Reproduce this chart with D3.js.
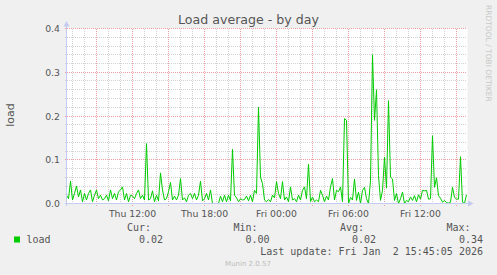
<!DOCTYPE html>
<meta charset="utf-8">
<style>
body { margin: 0; background: #f0f0f0; }
svg { display: block; }
.lbl { font: 9.3px "DejaVu Sans", sans-serif; fill: #555; }
.mono { font: 10px "DejaVu Sans Mono", monospace; fill: #555; white-space: pre; }
</style>
<svg id="chart" width="497" height="275"></svg>
<script src="https://d3js.org/d3.v7.min.js"></script>
<script>

// load average, one sample every 10 minutes from Thu 06:30
var load = [
  .019,.011,.051,.008,.023,.040,.015,.031,.004,.023,
  .008,.023,.031,.004,.019,.031,.011,.019,.008,.011,
  .019,.006,.031,.011,.023,.008,.027,.031,.038,.008,
  .023,.004,.019,.017,.011,.023,.031,.011,.019,.008,
  .137,.008,.011,.029,.004,.019,.006,.070,.031,.008,
  .011,.027,.048,.008,.017,.008,.019,.057,.008,.013,
  .004,.019,.023,.011,.023,.008,.019,.051,.006,.011,
  .023,.008,.031,0,0,0,0,.017,.004,.019,
  .004,.019,.006,.124,.019,.013,.004,.011,.008,.009,
  .017,.006,.019,.004,.030,.023,.220,.060,.045,.008,
  .004,.009,.004,.019,.013,.050,.023,.011,.050,.008,
  .015,.004,.038,.008,.011,.004,.019,.008,.030,.038,
  .011,.090,.004,.015,.004,.008,.004,.030,.019,.004,
  .017,.008,.038,.057,.008,.030,.027,.038,.004,.194,
  .190,0,.014,.008,.056,.007,.026,0,.030,.037,
  .011,0,.052,.340,.190,.260,.064,.007,.030,.106,
  .035,.235,.060,.056,.007,.023,0,.011,.026,0,
  .007,.004,.015,.007,.018,.004,.020,.010,.030,.029,
  .030,.010,.011,.155,.037,.059,.018,.012,.003,.007,
  .002,.001,.003,.037,.014,.010,.010,.107,.003,0,
  .020
];
var stepMinutes = 10;
var startTime = Date.UTC(2026, 0, 1, 6, 30);
var endTime = Date.UTC(2026, 0, 2, 15, 50);
var yMax = 0.4;
var legendHeads = ["Cur:", "Min:", "Avg:", "Max:"];
var legendValues = ["0.02", "0.00", "0.02", "0.34"];
var lastUpdate = "Last update: Fri Jan  2 15:45:05 2026";

var svg = d3.select("#chart");
var plotLeft = 66.5, plotRight = 466.5, plotTop = 28.5, plotBottom = 203.5;

var x = d3.scaleUtc().domain([startTime, endTime]).range([plotLeft, plotRight]);
var y = d3.scaleLinear().domain([0, yMax]).range([plotBottom, plotTop]);
var px = function(v) { return Math.round(v - 0.5) + 0.5; };

svg.append("rect").attr("x", plotLeft).attr("y", plotTop)
  .attr("width", plotRight - plotLeft + 1).attr("height", plotBottom - plotTop)
  .attr("fill", "#fff");

var grid = svg.append("g").attr("shape-rendering", "crispEdges");

// horizontal grid: minor every 0.02, major every 0.1
d3.range(0, yMax + 0.001, 0.02).forEach(function(v, i) {
  var major = i % 5 === 0;
  grid.append("line")
    .attr("x1", plotLeft - 2).attr("x2", plotRight)
    .attr("y1", px(y(v))).attr("y2", px(y(v)))
    .attr("stroke", major ? "#e8a0a0" : "#d2d2d2")
    .attr("stroke-dasharray", "1,1");
});

// vertical grid: minor every hour, major every 3 hours
d3.utcHour.range(new Date(startTime), new Date(endTime)).forEach(function(t) {
  var major = t.getUTCHours() % 3 === 0;
  grid.append("line")
    .attr("x1", px(x(t))).attr("x2", px(x(t)))
    .attr("y1", plotTop).attr("y2", plotBottom + (major ? 2 : 0))
    .attr("stroke", major ? "#e8a0a0" : "#d2d2d2")
    .attr("stroke-dasharray", "1,1");
});

// y tick labels
y.ticks(4).forEach(function(v) {
  svg.append("text").attr("class", "lbl")
    .attr("x", 60).attr("y", px(y(v))).attr("dy", "0.35em")
    .attr("text-anchor", "end")
    .text(d3.format(".1f")(v));
});

// x tick labels every 6 hours
var fmt = d3.utcFormat("%a %H:%M");
d3.utcHour.every(6).range(new Date(startTime), new Date(endTime)).forEach(function(t) {
  svg.append("text").attr("class", "lbl")
    .attr("x", px(x(t))).attr("y", 216.5)
    .attr("text-anchor", "middle")
    .text(fmt(t));
});

// data line
var line = d3.line()
  .x(function(d, i) { return x(startTime + i * stepMinutes * 60000); })
  .y(function(d) { return y(d); });

svg.append("path").datum(load)
  .attr("d", line)
  .attr("fill", "none")
  .attr("stroke", "#00cc00")
  .attr("stroke-width", 1);

// axes with arrows
var axisColor = "#c4cbf2";
svg.append("line").attr("x1", plotLeft).attr("x2", plotLeft).attr("y1", 24).attr("y2", plotBottom + 2)
  .attr("stroke", axisColor).attr("shape-rendering", "crispEdges");
svg.append("line").attr("x1", plotLeft - 2).attr("x2", plotRight + 3).attr("y1", plotBottom).attr("y2", plotBottom)
  .attr("stroke", axisColor).attr("shape-rendering", "crispEdges");
svg.append("path").attr("d", "M63.5,26.5L69.5,26.5L66.5,21Z").attr("fill", axisColor);
svg.append("path").attr("d", "M468,200.5L468,206.5L473.5,203.5Z").attr("fill", axisColor);

// title and labels
svg.append("text").attr("x", 248.5).attr("y", 24)
  .attr("text-anchor", "middle")
  .style("font", "12.6px 'DejaVu Sans', sans-serif").attr("fill", "#555")
  .text("Load average - by day");

svg.append("text")
  .attr("transform", "translate(14,115) rotate(-90)")
  .attr("text-anchor", "middle")
  .style("font", "11px 'DejaVu Sans', sans-serif").attr("fill", "#555")
  .text("load");

svg.append("text")
  .attr("transform", "translate(485.5,5) rotate(90)")
  .style("font", "7.5px 'DejaVu Sans', sans-serif").attr("fill", "#c8c8c8")
  .text("RRDTOOL / TOBI OETIKER");

// legend
var headX = [151, 257.5, 364, 470.5];
var valX = [163, 269.5, 376, 483];
legendHeads.forEach(function(h, i) {
  svg.append("text").attr("class", "mono").attr("x", headX[i]).attr("y", 231)
    .attr("text-anchor", "end").text(h);
  svg.append("text").attr("class", "mono").attr("x", valX[i]).attr("y", 243)
    .attr("text-anchor", "end").text(legendValues[i]);
});
svg.append("rect").attr("x", 14).attr("y", 236.5).attr("width", 6).attr("height", 6)
  .attr("fill", "#00cc00");
svg.append("text").attr("class", "mono").attr("x", 26.5).attr("y", 243).text("load");
svg.append("text").attr("class", "mono").attr("x", 483).attr("y", 255)
  .attr("text-anchor", "end").text(lastUpdate);

svg.append("text").attr("x", 248).attr("y", 266)
  .attr("text-anchor", "middle")
  .style("font", "7px 'DejaVu Sans', sans-serif").attr("fill", "#bbb")
  .text("Munin 2.0.57");

</script>
